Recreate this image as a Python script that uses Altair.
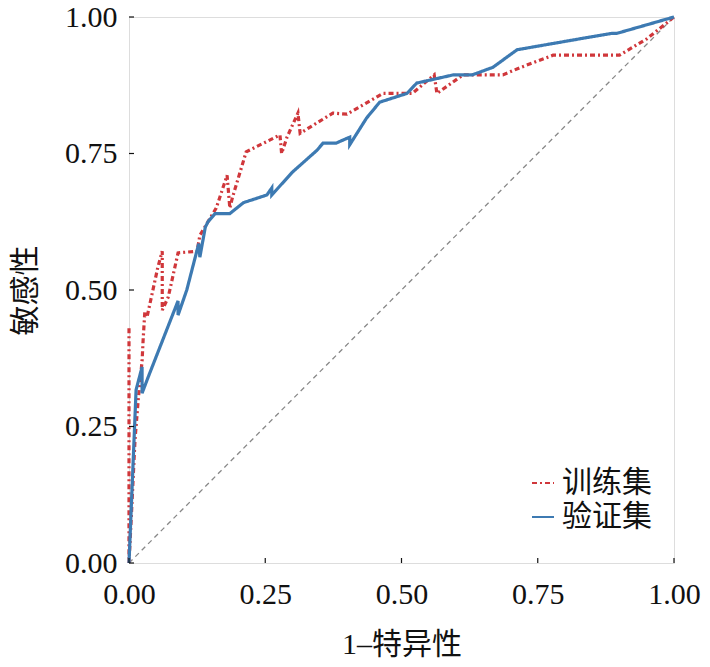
import altair as alt
import pandas as pd

# ---- data ----
train_x = [0.0, 0.0, 0.005, 0.011, 0.017, 0.024, 0.026, 0.029, 0.033, 0.053, 0.061, 0.061, 0.072,
           0.090, 0.125, 0.130, 0.160, 0.180, 0.185, 0.190, 0.215, 0.277, 0.280, 0.290, 0.310,
           0.314, 0.374, 0.400, 0.466, 0.520, 0.560, 0.565, 0.613, 0.686, 0.717, 0.778, 0.900,
           0.950, 1.0]
train_y = [0.43, 0.0, 0.10, 0.225, 0.300, 0.370, 0.410, 0.460, 0.450, 0.542, 0.571, 0.463, 0.487,
           0.568, 0.571, 0.600, 0.650, 0.710, 0.650, 0.670, 0.753, 0.784, 0.750, 0.780, 0.824,
           0.787, 0.824, 0.822, 0.860, 0.860, 0.894, 0.860, 0.894, 0.894, 0.907, 0.930, 0.930,
           0.960, 1.0]

valid_x = [0.0, 0.013, 0.024, 0.024, 0.035, 0.090, 0.090, 0.106, 0.128, 0.130, 0.140, 0.145,
           0.158, 0.185, 0.210, 0.253, 0.262, 0.262, 0.300, 0.345, 0.356, 0.380, 0.405, 0.405,
           0.436, 0.460, 0.510, 0.528, 0.595, 0.630, 0.668, 0.712, 0.827, 0.886, 0.895, 1.0]
valid_y = [0.0, 0.317, 0.359, 0.311, 0.340, 0.480, 0.454, 0.500, 0.585, 0.560, 0.615, 0.625,
           0.640, 0.640, 0.660, 0.674, 0.687, 0.674, 0.716, 0.756, 0.769, 0.769, 0.780, 0.766,
           0.815, 0.844, 0.860, 0.879, 0.894, 0.894, 0.908, 0.940, 0.960, 0.970, 0.970, 1.0]

series = ["训练集", "验证集"]
tick_values = [0.0, 0.25, 0.5, 0.75, 1.0]
diag = [0.0, 1.0]

rows = []
for i, (x, y) in enumerate(zip(train_x, train_y)):
    rows.append({"x": x, "y": y, "s": series[0], "o": i})
for i, (x, y) in enumerate(zip(valid_x, valid_y)):
    rows.append({"x": x, "y": y, "s": series[1], "o": i})
df = pd.DataFrame(rows)

FONT = "Liberation Serif, Times New Roman, Noto Sans CJK SC"
W, H = 545, 546

xs = alt.Scale(domain=[0, 1], nice=False, zero=False)
ys = alt.Scale(domain=[0, 1], nice=False, zero=False)

xaxis = alt.Axis(values=tick_values, format=".2f", title="1–特异性", grid=False, ticks=False,
                 domain=False, labelFont=FONT, labelFontSize=30, labelColor="#111",
                 labelPadding=16, titleFont=FONT, titleFontSize=30, titleFontWeight="normal",
                 titleColor="#111", titleY=81, titleBaseline="middle", labelFlush=False,
                 labelOverlap=False)
yaxis = alt.Axis(values=tick_values, format=".2f", title="敏感性", grid=False, ticks=False,
                 domain=False, labelFont=FONT, labelFontSize=30, labelColor="#111",
                 labelPadding=12, titleFont=FONT, titleFontSize=30, titleFontWeight="normal",
                 titleColor="#111", titleX=-104, titleY=273, titleAngle=-90,
                 titleBaseline="middle", titleAlign="center", labelFlush=False,
                 labelOverlap=False)

diag_df = pd.DataFrame({"x": diag, "y": diag})
diag_layer = alt.Chart(diag_df).mark_line(color="#888888", strokeDash=[5, 4], strokeWidth=1.3).encode(
    x=alt.X("x:Q", scale=xs, axis=xaxis),
    y=alt.Y("y:Q", scale=ys, axis=yaxis),
)

lines = alt.Chart(df).mark_line(strokeWidth=3.2).encode(
    x=alt.X("x:Q", scale=xs),
    y=alt.Y("y:Q", scale=ys),
    order="o:Q",
    color=alt.Color("s:N", scale=alt.Scale(domain=series, range=["#d0373b", "#3d7ab2"]),
                    sort=series,
                    legend=alt.Legend(title=None, orient="none", legendX=399, legendY=451,
                                      labelFont=FONT, labelFontSize=30, labelColor="#111",
                                      symbolType="stroke", symbolSize=484, symbolStrokeWidth=2,
                                      rowPadding=4, labelOffset=4)),
    strokeDash=alt.StrokeDash("s:N", scale=alt.Scale(domain=series, range=[[5, 3, 2, 3], [1, 0]]),
                              sort=series, legend=None),
)

tick_df = pd.DataFrame({"v": tick_values})
xticks = alt.Chart(tick_df).mark_rule(color="#111", strokeWidth=1.2).encode(
    x=alt.X("v:Q", scale=xs), y=alt.value(H), y2=alt.value(H - 5))
yticks = alt.Chart(tick_df).mark_rule(color="#111", strokeWidth=1.2).encode(
    y=alt.Y("v:Q", scale=ys), x=alt.value(0), x2=alt.value(5))

chart = alt.layer(diag_layer, lines, xticks, yticks).properties(
    width=W, height=H,
    autosize=alt.AutoSizeParams(type="none"),
    padding={"left": 121, "top": 9, "right": 28, "bottom": 96},
).configure_view(stroke="#111", strokeWidth=1.5).configure(background="white")

chart.save("out.html", embed_options={"renderer": "svg", "actions": False})
